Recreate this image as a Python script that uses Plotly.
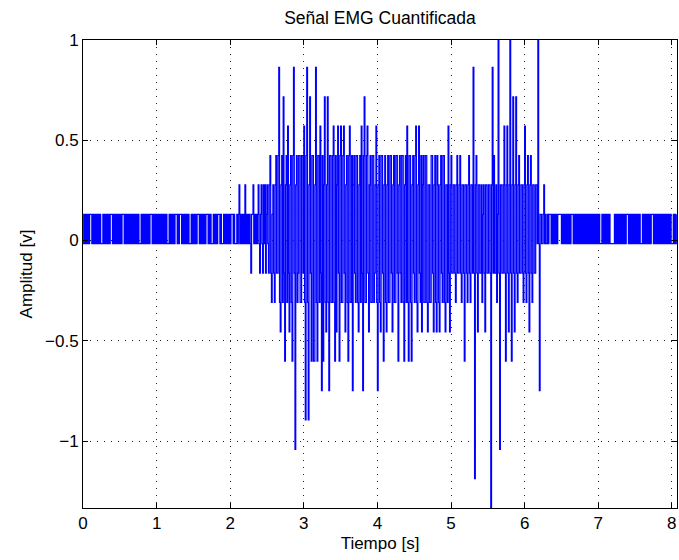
import plotly.graph_objects as go

# Sampling interval of the plotted (quantized) signal, seconds
DT = 0.01

# Quantization levels (volts), by level index
LEVELS = {
    -9: -1.334, -8: -1.188, -7: -1.041, -6: -0.895, -5: -0.748,
    -4: -0.602, -3: -0.455, -2: -0.309, -1: -0.162, 0: -0.016,
    1: 0.131, 2: 0.277, 3: 0.424, 4: 0.570, 5: 0.717, 6: 0.863, 7: 1.010,
}

# Level indices, rest period before the contraction (0 - 2.12 s)
baseline_start = [
    0, 1, 0, 1, 0, 1, 0, 1, 0, 1, 1, 1, 0, 1, 0, 1, 0, 1, 0, 1,
    0, 1, 0, 1, 0, 0, 0, 1, 0, 1, 0, 1, 0, 1, 0, 1, 0, 1, 1, 1,
    0, 1, 0, 1, 0, 1, 0, 1, 0, 1, 0, 1, 0, 1, 1, 1, 0, 1, 0, 1,
    0, 1, 0, 1, 0, 1, 0, 1, 0, 1, 0, 1, 0, 1, 0, 1, 0, 0, 0, 1,
    0, 1, 0, 1, 0, 1, 0, 1, 0, 1, 0, 1, 1, 1, 0, 1, 0, 1, 0, 1,
    0, 1, 0, 1, 0, 1, 0, 1, 0, 1, 0, 1, 0, 1, 0, 0, 0, 1, 0, 1,
    0, 1, 0, 1, 0, 1, 1, 1, 0, 1, 0, 1, 1, 1, 0, 1, 0, 1, 0, 1,
    0, 1, 0, 1, 0, 0, 0, 1, 0, 1, 0, 1, 0, 1, 0, 1, 1, 1, 0, 1,
    0, 1, 0, 1, 0, 1, 0, 1, 1, 1, 0, 1, 0, 1, 0, 0, 0, 1, 0, 1,
    0, 1, 0, 1, 1, 1, 0, 1, 0, 0, 0, 1, 0, 1, 0, 1, 0, 1, 0, 1,
    0, 1, 1, 1, 0, 1, 0, 0, 0, 1, 0, 1,
]

# Level indices, muscle activity burst (2.12 - 6.30 s)
burst = [
    2, 0, 1, 0, 1, 0, 1, 0,
    2, 0, 1, 0, 1, 0, 1, 0, -1, 1,
    1, 2, 0, 1, 0, 1, 0, 1, 2, 0,
    -1, 1, 2, 0, -1, 2, 0, 2, -1, 1,
    2, 0, -1, 2, 3, -1, -2, 1, 2, -1,
    -2, 2, 3, -1, -1, 3, 6, -2, -3, 2,
    3, -2, 5, -1, -4, 2, 3, -2, 4, -1,
    -3, 2, 3, -2, -4, 3, 6, -1, -7, 2,
    3, -2, -1, 3, 3, -2, -2, 3, 3, -1,
    4, -2, -6, 3, 6, -2, -6, 2, 5, -1,
    -4, 3, 3, -4, -4, 2, 6, -2, -4, 3,
    3, -2, 4, -1, -5, 3, -4, 2, 5, -2,
    -3, 2, 5, -2, -5, 3, 3, -2, -2, 3,
    4, -2, -4, 3, -3, 2, 4, -1, -4, 3,
    4, -2, -2, 3, 4, -1, -3, 2, 3, -2,
    -4, 3, 4, -2, -2, 3, -5, 2, 3, -1,
    -2, 3, 3, -2, -3, 2, 3, -2, 4, -1,
    -5, 3, 5, -2, -2, 3, 4, -1, -3, 2,
    3, -2, -2, 3, 3, -2, -1, 2, 4, -2,
    -5, 2, 3, -2, -3, 3, 3, -1, -4, 2,
    3, -2, -3, 2, 3, -2, -2, 3, 3, -1,
    -3, 2, 3, -2, -2, 3, 3, -1, -4, 2,
    3, -1, -2, 3, 3, -2, -4, 2, 3, -2,
    4, -2, -4, 3, 3, -2, -4, 2, 3, -1,
    -2, 3, 4, -2, -3, 2, 4, -1, -2, 3,
    -3, 2, 3, -2, -2, 3, 3, -2, -3, 2,
    2, -2, -2, 3, 3, -1, -3, 2, 3, -2,
    -3, 3, 2, -2, -3, 2, 3, -1, -2, 3,
    3, -2, -3, 2, 2, -2, 4, -1, -3, 2,
    3, -1, -1, 2, 2, -1, -2, 2, 3, -1,
    -1, 2, 3, -1, -2, 2, 2, -1, -4, 2,
    2, -1, -2, 2, 3, -1, -2, 2, 2, -1,
    6, -1, -8, 2, 3, -1, -3, 2, 2, -1,
    -1, 2, -2, 1, 2, -1, -3, 2, 2, -1,
    -1, 2, 2, -1, -9, 2, 6, -1, 3, -1,
    -1, 2, -2, 1, 7, -1, -7, 2, 2, -1,
    -1, 2, 4, -1, -4, 2, 4, -1, -3, 2,
    7, -1, -4, 2, 5, -1, -3, 2, 5, -1,
    -2, 2, 3, -1, -1, 2, 2, -1, -2, 2,
    4, -1, -2, 2, 3, -1, -3, 2, 3, -1,
    -2, 2, 2, -1, -1, 2, 2, 0, 7, 0,
    -5, 1, 1, 0, 0, 1, 2, 0, 1, 0,
]

# Level indices, rest period after the contraction (6.30 - 8.06 s)
baseline_end = [
    0, 1, 0, 1, 1, 1, 0, 1, 0, 1, 0, 1, 0, 1, 0, 1, 1, 1, 1, 1,
    0, 1, 0, 1, 0, 1, 0, 1, 0, 1, 0, 1, 0, 1, 1, 1, 0, 1, 0, 1,
    0, 1, 0, 1, 0, 1, 0, 1, 0, 1, 0, 1, 0, 1, 0, 1, 0, 1, 0, 1,
    0, 1, 0, 1, 0, 1, 0, 1, 0, 1, 0, 1, 0, 0, 0, 1, 0, 1, 0, 1,
    0, 1, 0, 1, 0, 1, 0, 0, 0, 0, 0, 0, 1, 0, 1, 0, 1, 0, 1, 0,
    1, 0, 1, 0, 1, 0, 1, 0, 1, 1, 1, 0, 1, 0, 1, 0, 1, 0, 1, 0,
    1, 0, 1, 0, 1, 0, 1, 0, 0, 0, 1, 0, 1, 0, 1, 0, 1, 0, 1, 0,
    1, 0, 1, 1, 1, 0, 1, 0, 1, 0, 1, 0, 1, 0, 1, 0, 1, 0, 1, 0,
    1, 0, 1, 0, 1, 0, 1, 0, 1, 0, 0, 0, 1, 0, 1, 0, 1,
]

X_TICKS = [0, 1, 2, 3, 4, 5, 6, 7, 8]
Y_TICKS = [-1, -0.5, 0, 0.5, 1]
X_RANGE = [0, 8.07]
Y_RANGE = [-1.334, 1.0]

codes = baseline_start + burst + baseline_end
t = [i * DT for i in range(len(codes))]
amp = [LEVELS[c] for c in codes]

FONT = "Liberation Sans, Arial, Helvetica, sans-serif"

fig = go.Figure()
fig.add_trace(go.Scatter(
    x=t, y=amp, mode="lines",
    line=dict(color="#0000ff", width=1.25, shape="hv", simplify=False),
    showlegend=False, hoverinfo="skip",
))

axis_common = dict(
    showline=True, linecolor="black", linewidth=1, mirror="allticks",
    ticks="inside", ticklen=5, tickcolor="black", tickwidth=1,
    showgrid=True, gridcolor="#222222", gridwidth=1, griddash="1px,6px",
    zeroline=False,
    tickfont=dict(family=FONT, size=17, color="black"),
)

fig.update_xaxes(
    range=X_RANGE, tickmode="array", tickvals=X_TICKS,
    title=dict(text="Tiempo [s]", font=dict(family=FONT, size=17, color="black"), standoff=4),
    **axis_common,
)
fig.update_yaxes(
    range=Y_RANGE, tickmode="array", tickvals=Y_TICKS,
    ticktext=["\u22121", "\u22120.5", "0", "0.5", "1"],
    title=dict(text="Amplitud [v]", font=dict(family=FONT, size=17, color="black"), standoff=8),
    **axis_common,
)

fig.update_layout(
    width=679, height=560,
    margin=dict(l=83, r=2, t=40, b=52),
    paper_bgcolor="white", plot_bgcolor="white",
    title=dict(text="Señal EMG Cuantificada", x=0.5, xanchor="center",
               xref="paper", y=1 - 18 / 560, yanchor="middle",
               font=dict(family=FONT, size=17.5, color="black")),
)

fig.write_html("out.html")
